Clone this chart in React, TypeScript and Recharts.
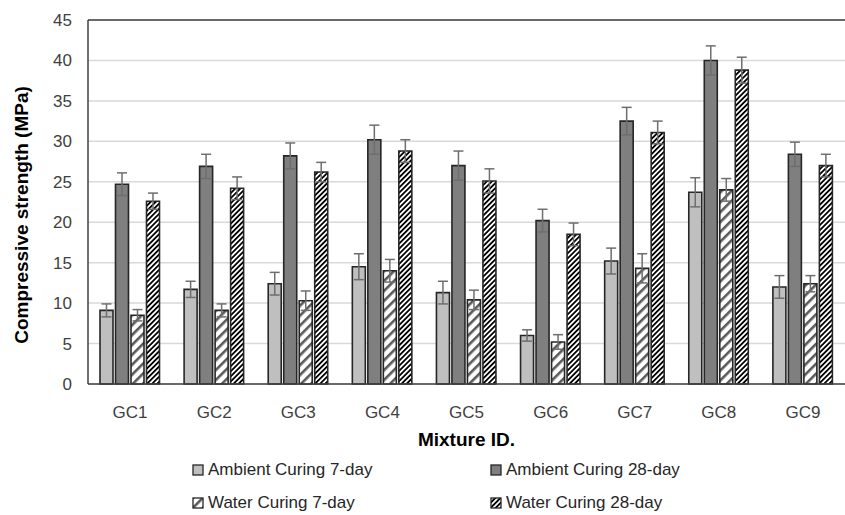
import { BarChart, Bar, XAxis, YAxis, CartesianGrid, ErrorBar, Legend, ReferenceLine } from 'recharts';

const categories = ['GC1', 'GC2', 'GC3', 'GC4', 'GC5', 'GC6', 'GC7', 'GC8', 'GC9'];
const ambient7 = [9.1, 11.7, 12.4, 14.5, 11.3, 6.0, 15.2, 23.7, 12.0];
const ambient28 = [24.7, 26.9, 28.2, 30.2, 27.0, 20.2, 32.5, 40.0, 28.4];
const water7 = [8.5, 9.1, 10.3, 14.0, 10.4, 5.2, 14.3, 24.0, 12.4];
const water28 = [22.6, 24.2, 26.2, 28.8, 25.1, 18.5, 31.1, 38.8, 27.0];
const ambient7Err = [0.8, 1.0, 1.4, 1.6, 1.4, 0.7, 1.6, 1.8, 1.4];
const ambient28Err = [1.4, 1.5, 1.6, 1.8, 1.8, 1.4, 1.7, 1.8, 1.5];
const water7Err = [0.7, 0.8, 1.2, 1.4, 1.2, 0.9, 1.8, 1.4, 1.0];
const water28Err = [1.0, 1.4, 1.2, 1.4, 1.5, 1.4, 1.4, 1.6, 1.4];
const yTicks = [0, 5, 10, 15, 20, 25, 30, 35, 40, 45];

const data = categories.map((name, i) => ({
  name,
  a7: ambient7[i],
  a28: ambient28[i],
  w7: water7[i],
  w28: water28[i],
  a7e: ambient7Err[i],
  a28e: ambient28Err[i],
  w7e: water7Err[i],
  w28e: water28Err[i],
}));

const FONT = '"Liberation Sans", Arial, sans-serif';
const BORDER = '#262626';
const ERR = '#6e6e6e';

const series = [
  { key: 'a7', err: 'a7e', name: 'Ambient Curing 7-day', fill: '#bfbfbf' },
  { key: 'a28', err: 'a28e', name: 'Ambient Curing 28-day', fill: '#7f7f7f' },
  { key: 'w7', err: 'w7e', name: 'Water Curing 7-day', fill: 'url(#hatchWide)' },
  { key: 'w28', err: 'w28e', name: 'Water Curing 28-day', fill: 'url(#hatchDense)' },
];

const legendPos = [
  { left: 192, top: 0 },
  { left: 490, top: 0 },
  { left: 192, top: 33 },
  { left: 490, top: 33 },
];

const renderLegend = () => (
  <div style={{ position: 'relative', width: 845, height: 60, fontFamily: FONT, fontSize: 17, color: '#262626' }}>
    {series.map((s, i) => (
      <div key={s.key} style={{ position: 'absolute', left: legendPos[i].left, top: legendPos[i].top, display: 'flex', alignItems: 'center', whiteSpace: 'nowrap' }}>
        <svg width={13} height={13} style={{ marginRight: 3 }}>
          <rect x={1} y={1} width={10} height={10} fill={s.fill} stroke={BORDER} strokeWidth={1.3} />
        </svg>
        <span>{s.name}</span>
      </div>
    ))}
  </div>
);

const YLabel = () => (
  <text
    x={21}
    y={215}
    transform="rotate(-90 21 215)"
    textAnchor="middle"
    dominantBaseline="central"
    fontFamily={FONT}
    fontSize={19}
    fontWeight="bold"
    fill="#000"
  >
    Compressive strength (MPa)
  </text>
);

export default function App() {
  return (
    <div style={{ position: 'absolute', left: 0, top: 0, width: 845, height: 515, background: '#fff' }}>
      <BarChart
        width={845}
        height={515}
        data={data}
        margin={{ top: 20, right: 0, bottom: 67, left: 0 }}
        barCategoryGap={12}
        barGap={2.5}
      >
        <defs>
          <pattern id="hatchWide" width={7} height={7} patternUnits="userSpaceOnUse" patternTransform="rotate(45)">
            <rect width={7} height={7} fill="#fff" />
            <rect width={2.6} height={7} fill="#595959" />
          </pattern>
          <pattern id="hatchDense" width={3.6} height={3.6} patternUnits="userSpaceOnUse" patternTransform="rotate(45)">
            <rect width={3.6} height={3.6} fill="#fff" />
            <rect width={1.8} height={3.6} fill="#000" />
          </pattern>
        </defs>
        <CartesianGrid vertical={false} stroke="#d9d9d9" strokeWidth={1.5} />
        <XAxis
          dataKey="name"
          height={64}
          axisLine={{ stroke: '#404040', strokeWidth: 1.5 }}
          tickLine={false}
          tickMargin={16}
          tick={{ fontFamily: FONT, fontSize: 17, fill: '#404040' }}
          label={{ value: 'Mixture ID.', position: 'insideBottom', offset: 2, fontFamily: FONT, fontSize: 19, fontWeight: 'bold', fill: '#000' }}
        />
        <YAxis
          width={88}
          domain={[0, 45]}
          ticks={yTicks}
          interval={0}
          axisLine={{ stroke: '#404040', strokeWidth: 1.5 }}
          tickLine={false}
          tickMargin={10}
          tick={{ fontFamily: FONT, fontSize: 17, fill: '#404040' }}
          label={<YLabel />}
        />
        <ReferenceLine y={45} stroke="#404040" strokeWidth={1.5} />
        {series.map((s) => (
          <Bar key={s.key} dataKey={s.key} name={s.name} fill={s.fill} stroke={BORDER} strokeWidth={1.6} isAnimationActive={false}>
            <ErrorBar dataKey={s.err} width={5} stroke={ERR} strokeWidth={1.5} direction="y" />
          </Bar>
        ))}
        <Legend
          layout="horizontal"
          verticalAlign="middle"
          align="center"
          wrapperStyle={{ top: 460, left: 0, width: 845 }}
          content={renderLegend}
        />
      </BarChart>
    </div>
  );
}
